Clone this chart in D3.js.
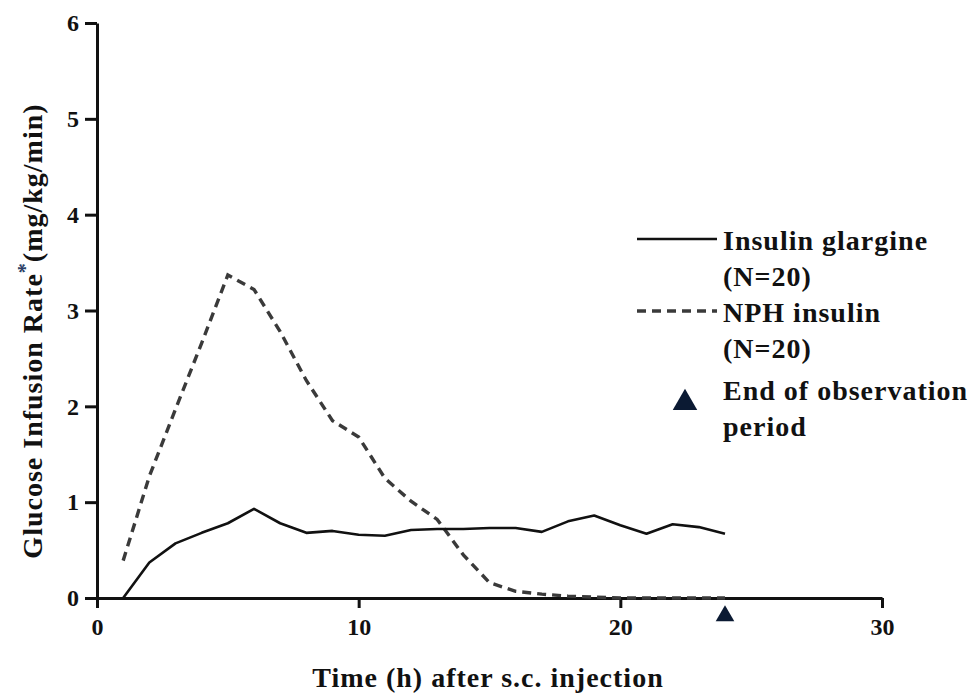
<!DOCTYPE html>
<html>
<head>
<meta charset="utf-8">
<script src="https://cdn.jsdelivr.net/npm/d3@7"></script>
<style>
  body { margin: 0; background: #fff; }
  text { font-family: "Liberation Serif", "Times New Roman", serif; font-weight: bold; fill: #111; }
  .tick text { font-size: 24px; }
</style>
</head>
<body>
<div id="chart"></div>
<script>
const width = 974, height = 696;

// hours after injection
const hours = [1, 2, 3, 4, 5, 6, 7, 8, 9, 10, 11, 12, 13, 14, 15, 16, 17, 18, 19, 20, 21, 22, 23, 24];
// glucose infusion rate, mg/kg/min
const glargine = [0, 0.37, 0.57, 0.68, 0.78, 0.93, 0.78, 0.68, 0.70, 0.66, 0.65, 0.71, 0.72, 0.72, 0.73, 0.73, 0.69, 0.80, 0.86, 0.76, 0.67, 0.77, 0.74, 0.67];
const nph = [0.39, 1.27, 1.97, 2.66, 3.37, 3.22, 2.78, 2.27, 1.85, 1.68, 1.25, 1.01, 0.82, 0.45, 0.16, 0.07, 0.04, 0.02, 0.01, 0, 0, 0, 0, 0];
const endObservation = 24;

const xTicks = [0, 10, 20, 30];
const yTicks = [0, 1, 2, 3, 4, 5, 6];
const legendItems = [
  { type: "solid", lines: ["Insulin glargine", "(N=20)"] },
  { type: "dashed", lines: ["NPH insulin", "(N=20)"] },
  { type: "triangle", lines: ["End of observation", "period"] }
];

const svg = d3.select("#chart").append("svg")
  .attr("width", width)
  .attr("height", height);

const x = d3.scaleLinear().domain([0, 30]).range([97, 882]);
const y = d3.scaleLinear().domain([0, 6]).range([598, 23]);

// axes
const xAxis = svg.append("g")
  .attr("transform", `translate(0,${y(0)})`)
  .call(d3.axisBottom(x).tickValues(xTicks).tickFormat(d3.format("d"))
    .tickSize(10).tickSizeOuter(0).tickPadding(10));
const yAxis = svg.append("g")
  .attr("transform", `translate(${x(0)},0)`)
  .call(d3.axisLeft(y).tickValues(yTicks).tickFormat(d3.format("d"))
    .tickSize(12).tickSizeOuter(0).tickPadding(6));

[xAxis, yAxis].forEach(g => {
  g.attr("font-family", null).attr("font-size", null);
  g.select(".domain").attr("stroke", "#111").attr("stroke-width", 3);
  g.selectAll(".tick line").attr("stroke", "#111").attr("stroke-width", 3);
  g.selectAll(".tick text").attr("fill", "#111");
});

// curves
const line = d3.line()
  .x(d => x(d[0]))
  .y(d => y(d[1]));

svg.append("path")
  .datum(hours.map((h, i) => [h, nph[i]]))
  .attr("fill", "none")
  .attr("stroke", "#3a3a3a")
  .attr("stroke-width", 3.4)
  .attr("stroke-dasharray", "9 6")
  .attr("d", line);

svg.append("path")
  .datum(hours.map((h, i) => [h, glargine[i]]))
  .attr("fill", "none")
  .attr("stroke", "#111")
  .attr("stroke-width", 2.6)
  .attr("stroke-linejoin", "round")
  .attr("d", line);

// end of observation marker
svg.append("path")
  .attr("d", d3.symbol(d3.symbolTriangle).size(150)())
  .attr("transform", `translate(${x(endObservation)},${y(0) + 18})`)
  .attr("fill", "#0b1a33");

// axis titles
svg.append("text")
  .attr("x", 488).attr("y", 687)
  .attr("text-anchor", "middle")
  .attr("font-size", 28)
  .attr("letter-spacing", 1)
  .text("Time (h) after s.c. injection");

const yTitle = svg.append("text")
  .attr("transform", "translate(42,331) rotate(-90)")
  .attr("text-anchor", "middle")
  .attr("font-size", 28)
  .attr("letter-spacing", 1);
yTitle.append("tspan").text("Glucose Infusion Rate");
yTitle.append("tspan").attr("dy", -10).attr("font-size", 20).style("fill", "#2b3f66").text("*");
yTitle.append("tspan").attr("dy", 10).text("(mg/kg/min)");

// legend
const legendBase = [250, 322, 400];
const lg = svg.append("g");
legendItems.forEach((item, i) => {
  const by = legendBase[i];
  if (item.type === "triangle") {
    lg.append("path")
      .attr("d", d3.symbol(d3.symbolTriangle).size(260)())
      .attr("transform", `translate(685,${by + 3})`)
      .attr("fill", "#0b1a33");
  } else {
    lg.append("line")
      .attr("x1", 637).attr("x2", 717)
      .attr("y1", by - 11).attr("y2", by - 11)
      .attr("stroke", item.type === "solid" ? "#111" : "#3a3a3a")
      .attr("stroke-width", item.type === "solid" ? 2.6 : 3.4)
      .attr("stroke-dasharray", item.type === "solid" ? null : "9 6");
  }
  item.lines.forEach((t, j) => {
    lg.append("text")
      .attr("x", 723)
      .attr("y", by + j * 36)
      .attr("font-size", 28)
      .attr("letter-spacing", 1)
      .text(t);
  });
});
</script>
</body>
</html>
